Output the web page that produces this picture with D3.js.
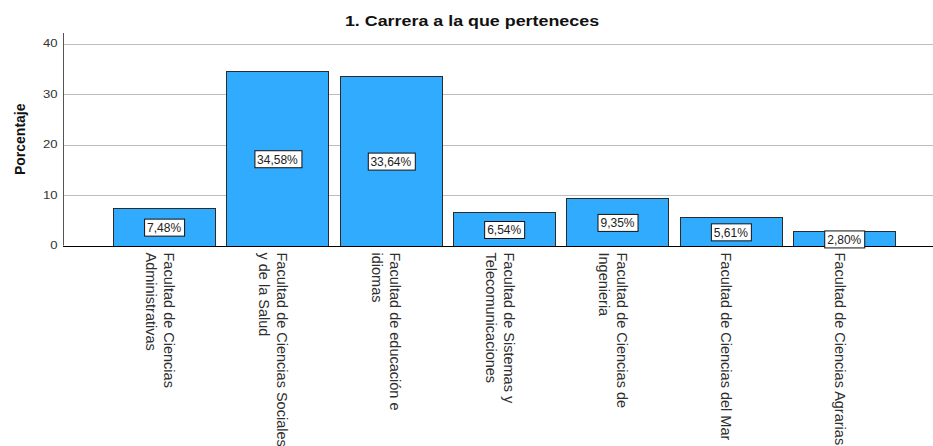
<!DOCTYPE html>
<html>
<head>
<meta charset="utf-8">
<script src="https://cdn.jsdelivr.net/npm/d3@7"></script>
<style>
    body { margin: 0; background: #fff; }
    svg text { font-family: Arial, "Liberation Sans", sans-serif; }
</style>
</head>
<body>
<div id="chart"></div>
<script>

var categories = [
    ["Facultad de Ciencias", "Administrativas"],
    ["Facultad de Ciencias Sociales", "y de la Salud"],
    ["Facultad de educación e", "idiomas"],
    ["Facultad de Sistemas y", "Telecomunicaciones"],
    ["Facultad de Ciencias de", "Ingenieria"],
    ["Facultad de Ciencias del Mar"],
    ["Facultad de Ciencias Agrarias"]
]
var values = [7.48, 34.58, 33.64, 6.54, 9.35, 5.61, 2.80]
var valueLabels = ["7,48%", "34,58%", "33,64%", "6,54%", "9,35%", "5,61%", "2,80%"]
var yTicks = [0, 10, 20, 30, 40]

var title = "1. Carrera a la que perteneces"
var yTitle = "Porcentaje"

var WIDTH = 933,
    HEIGHT = 446

var AXIS_LEFT = 63,
    AXIS_RIGHT = 933,
    AXIS_TOP = 33,
    AXIS_BOTTOM = 245.5

var LINE_HEIGHT = 18

// the source picture is stretched sideways a bit, horizontal texts follow it
var STRETCH = 1.25

var svg = d3.select("#chart")
    .append("svg")
    .attr("width", WIDTH)
    .attr("height", HEIGHT)

var x = d3.scaleBand()
    .domain(d3.range(categories.length))
    .range([107.4, 900.9])
    .paddingInner(0.1)
    .paddingOuter(0.05)

var y = d3.scaleLinear()
    .domain([0, 42.1])
    .range([AXIS_BOTTOM, AXIS_TOP])

// grid lines
svg.append("g")
    .selectAll("line")
    .data(yTicks.filter(function (d) { return d > 0 }))
    .enter()
    .append("line")
    .attr("x1", AXIS_LEFT)
    .attr("x2", AXIS_RIGHT)
    .attr("y1", function (d) { return Math.round(y(d)) + 0.5 })
    .attr("y2", function (d) { return Math.round(y(d)) + 0.5 })
    .attr("stroke", "#bdbdbd")
    .attr("stroke-width", 1)

// y axis
var yAxis = d3.axisLeft(y)
    .tickValues(yTicks)
    .tickSize(0)
    .tickPadding(0)

var gy = svg.append("g")
    .attr("transform", "translate(" + (AXIS_LEFT + 0.5) + ",0)")
    .call(yAxis)

gy.select(".domain")
    .attr("d", "M0," + AXIS_TOP + "V" + AXIS_BOTTOM)
    .attr("stroke", "#555")

gy.selectAll(".tick text")
    .attr("x", 0)
    .attr("transform", "translate(-6,0) scale(" + STRETCH + ",1)")
    .attr("font-size", "10.5px")
    .attr("fill", "#333")

svg.append("text")
    .attr("transform", "translate(25," + ((AXIS_TOP + AXIS_BOTTOM) / 2) + ") rotate(-90)")
    .attr("text-anchor", "middle")
    .attr("font-size", "14px")
    .attr("font-weight", "bold")
    .attr("fill", "#111")
    .text(yTitle)

// bars
svg.append("g")
    .selectAll("rect")
    .data(values)
    .enter()
    .append("rect")
    .attr("x", function (d, i) { return Math.round(x(i)) + 0.5 })
    .attr("y", function (d) { return Math.round(y(d)) + 0.5 })
    .attr("width", Math.round(x.bandwidth()))
    .attr("height", function (d) { return Math.round(y(0)) - Math.round(y(d)) })
    .attr("fill", "#31abfd")
    .attr("stroke", "#2b2b2b")
    .attr("stroke-width", 1)

// x axis line
svg.append("line")
    .attr("x1", AXIS_LEFT)
    .attr("x2", AXIS_RIGHT)
    .attr("y1", Math.round(AXIS_BOTTOM) + 0.5)
    .attr("y2", Math.round(AXIS_BOTTOM) + 0.5)
    .attr("stroke", "#000")

// value labels in boxes
var valueG = svg.append("g")
    .selectAll("g")
    .data(values)
    .enter()
    .append("g")
    .attr("transform", function (d, i) {
        return "translate(" + (x(i) + x.bandwidth() / 2) + "," + ((y(d) + y(0)) / 2 + 1) + ")"
    })

valueG.append("rect")
    .attr("fill", "#fff")
    .attr("stroke", "#111")
    .attr("stroke-width", 1)

valueG.append("text")
    .attr("text-anchor", "middle")
    .attr("dy", "0.36em")
    .attr("font-size", "12px")
    .attr("fill", "#222")
    .text(function (d, i) { return valueLabels[i] })

valueG.each(function () {
    var g = d3.select(this)
    var w = g.select("text").node().getComputedTextLength()
    g.select("rect")
        .attr("x", Math.round(-w / 2 - 3) + 0.5)
        .attr("y", -8.5)
        .attr("width", Math.round(w + 6))
        .attr("height", 17)
})

// category labels, rotated
var catG = svg.append("g")
    .selectAll("g")
    .data(categories)
    .enter()
    .append("g")
    .attr("transform", function (d, i) {
        return "translate(" + (x(i) + x.bandwidth() / 2) + "," + (AXIS_BOTTOM + 7) + ") rotate(90)"
    })

catG.each(function (lines) {
    var g = d3.select(this)
    var first = 14.5 - ((lines.length - 1) * LINE_HEIGHT + 10) / 2
    g.selectAll("text")
        .data(lines)
        .enter()
        .append("text")
        .attr("x", 0)
        .attr("y", function (d, k) { return first + k * LINE_HEIGHT })
        .attr("font-size", "14.5px")
        .attr("fill", "#2e2e2e")
        .text(function (d) { return d })
})

// title
svg.append("text")
    .attr("transform", "translate(472,26) scale(" + STRETCH + ",1)")
    .attr("text-anchor", "middle")
    .attr("font-size", "14.3px")
    .attr("font-weight", "bold")
    .attr("fill", "#111")
    .text(title)

</script>
</body>
</html>
